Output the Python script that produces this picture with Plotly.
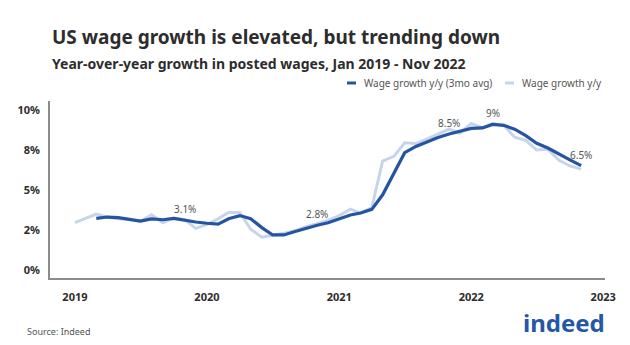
import pandas as pd
import plotly.graph_objects as go

months = pd.date_range("2019-01-01", "2022-11-01", freq="MS")

wage_yy = [2.96, 3.25, 3.5, 3.3, 3.2, 3.15, 3.05, 3.45, 2.95, 3.25, 3.15, 2.6,
           2.85, 3.2, 3.6, 3.6, 2.55, 2.05, 2.15, 2.3, 2.45, 2.7, 2.9, 3.1,
           3.4, 3.8, 3.55, 3.9, 6.8, 7.1, 7.95, 7.9, 8.2, 8.5, 8.8, 8.55,
           9.15, 8.9, 9.15, 9.05, 8.3, 8.1, 7.5, 7.54, 6.85, 6.5, 6.3]

wage_3mo = [None, None, 3.23, 3.31, 3.27, 3.15, 3.06, 3.19, 3.14, 3.22, 3.1, 3.0,
            2.92, 2.87, 3.2, 3.4, 3.2, 2.65, 2.19, 2.19, 2.4, 2.62, 2.8, 2.95,
            3.2, 3.44, 3.56, 3.79, 4.7, 6.0, 7.33, 7.72, 8.0, 8.28, 8.5, 8.65,
            8.85, 8.88, 9.1, 9.04, 8.8, 8.4, 7.92, 7.62, 7.22, 6.88, 6.52]

label_months = ["2019-11-01", "2020-11-01", "2021-11-01", "2022-03-01", "2022-11-01"]
label_texts = ["3.1%", "2.8%", "8.5%", "9%", "6.5%"]

year_ticks = ["2019-01-01", "2020-01-01", "2021-01-01", "2022-01-01", "2023-01-01"]
year_labels = ["2019", "2020", "2021", "2022", "2023"]
y_ticks = [0, 2.5, 5, 7.5, 10]
y_labels = ["0%", "2%", "5%", "8%", "10%"]

DARK = "#2454a2"
LIGHT = "#c8d4ea"
TXT = "#2d2d2d"

fig = go.Figure()
fig.add_trace(go.Scatter(x=months, y=wage_yy, mode="lines", name="Wage growth y/y",
                         line=dict(color=LIGHT, width=3), showlegend=False))
fig.add_trace(go.Scatter(x=months, y=wage_3mo, mode="lines", name="Wage growth y/y (3mo avg)",
                         line=dict(color=DARK, width=3.2), showlegend=False))

lookup = dict(zip([m.strftime("%Y-%m-%d") for m in months], wage_3mo))
for m, t in zip(label_months, label_texts):
    fig.add_annotation(x=m, y=lookup[m], text=t, showarrow=False, yshift=11,
                       font=dict(family="Noto Sans", size=10, color="#555555"))

fig.update_layout(
    width=630, height=345,
    margin=dict(l=50, r=25, t=101, b=67),
    paper_bgcolor="white", plot_bgcolor="white",
    font=dict(family="Noto Sans", color=TXT),
)
fig.update_xaxes(type="date", range=["2018-10-24", "2023-01-06"],
                 tickvals=year_ticks, ticktext=year_labels,
                 showgrid=False, zeroline=False, showline=True, linecolor="#8c8c8c", linewidth=1.5,
                 ticks="", ticklabelstandoff=8,
                 tickfont=dict(family="Noto Sans", size=11, color=TXT, weight="bold"))
fig.update_yaxes(range=[-0.5, 10.56], tickvals=y_ticks, ticktext=y_labels,
                 showgrid=False, zeroline=False, showline=True, linecolor="#8c8c8c", linewidth=1.5,
                 ticks="", ticklabelstandoff=6,
                 tickfont=dict(family="Noto Sans", size=11, color=TXT, weight="bold"))

# titles
fig.add_annotation(xref="paper", yref="paper", x=0, y=1, yshift=101 - 37,
                   xanchor="left", yanchor="middle", showarrow=False,
                   text="<b>US wage growth is elevated, but trending down</b>",
                   font=dict(family="Noto Sans", size=19, color=TXT))
fig.add_annotation(xref="paper", yref="paper", x=0, y=1, yshift=101 - 63,
                   xanchor="left", yanchor="middle", showarrow=False,
                   text="<b>Year-over-year growth in posted wages, Jan 2019 - Nov 2022</b>",
                   font=dict(family="Noto Sans", size=14, color=TXT))

# custom legend
ly = 1 + 18 / 177
fig.add_shape(type="line", xref="paper", yref="paper", x0=(347 - 50) / 555, x1=(356 - 50) / 555,
              y0=ly, y1=ly, line=dict(color=DARK, width=3))
fig.add_annotation(xref="paper", yref="paper", x=(362 - 50) / 555, y=ly,
                   xanchor="left", yanchor="middle", showarrow=False,
                   text="Wage growth y/y (3mo avg)",
                   font=dict(family="Noto Sans", size=10, color="#555555"))
fig.add_shape(type="line", xref="paper", yref="paper", x0=(505 - 50) / 555, x1=(514 - 50) / 555,
              y0=ly, y1=ly, line=dict(color=LIGHT, width=3))
fig.add_annotation(xref="paper", yref="paper", x=(520 - 50) / 555, y=ly,
                   xanchor="left", yanchor="middle", showarrow=False,
                   text="Wage growth y/y",
                   font=dict(family="Noto Sans", size=10, color="#555555"))

# source + logo
fig.add_annotation(xref="paper", yref="paper", x=(25 - 50) / 555, y=-(331 - 278) / 177,
                   xanchor="left", yanchor="middle", showarrow=False,
                   text="Source: Indeed",
                   font=dict(family="Noto Sans", size=9, color="#555555"))
fig.add_annotation(xref="paper", yref="paper", x=(607 - 50) / 555, y=-(322 - 278) / 177,
                   xanchor="right", yanchor="middle", showarrow=False,
                   text="<b>indeed</b>",
                   font=dict(family="Noto Sans", size=24, color="#2557a7"))

fig.write_html("out.html")
